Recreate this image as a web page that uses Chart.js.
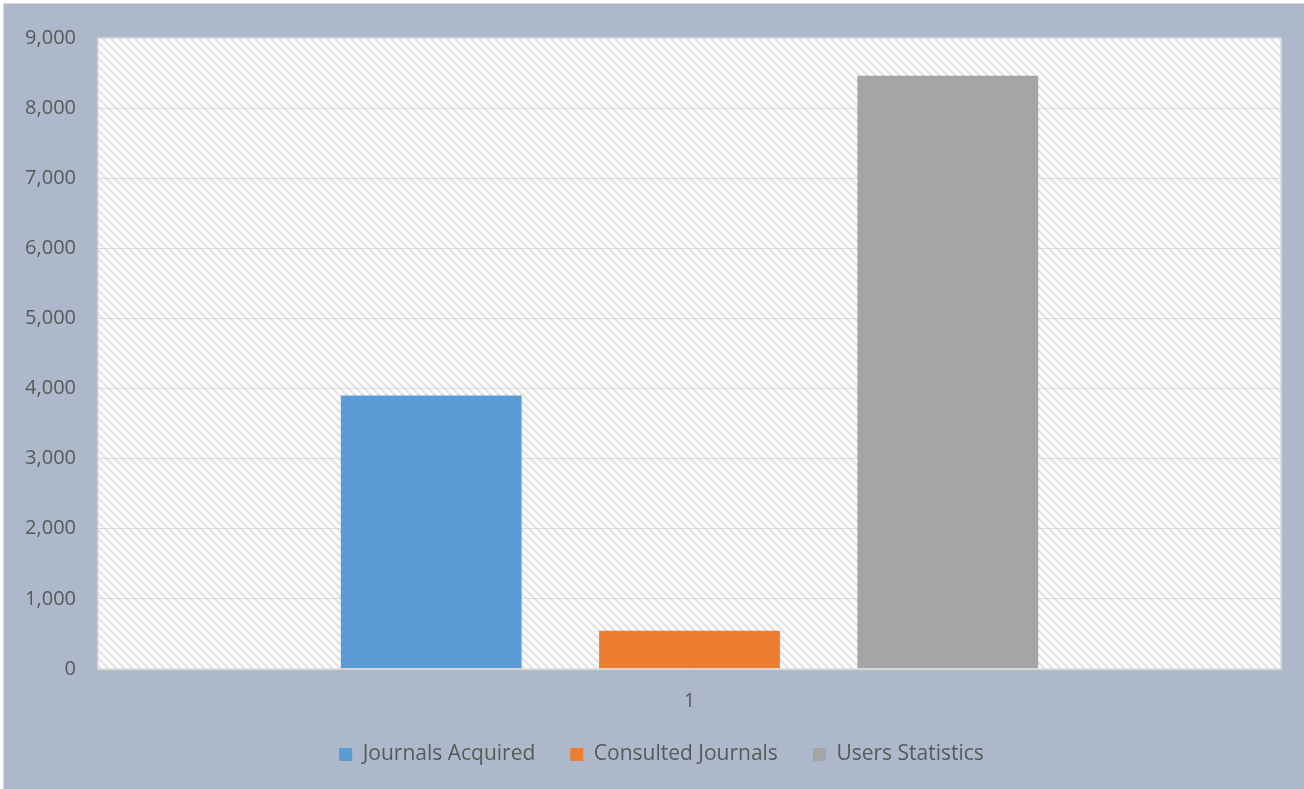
<!DOCTYPE html>
<html lang="en">
<head>
  <meta charset="UTF-8">
  <title>Journals</title>
  <script src="https://cdn.jsdelivr.net/npm/chart.js"></script>
  <style>
    body { margin: 0; background: #fff; }
    .moldura {
      position: absolute; left: 3px; top: 3px;
      width: 1301px; height: 786px;
      background: #ADB9CA;
      border-left: 1px solid #D9D9D9; border-top: 1px solid #D9D9D9;
    }
  </style>
</head>
<body>
  <div class="moldura">
    <canvas id="grafico"></canvas>
  </div>

<script>
  // dados
  var categorias = ['1']
  var series = ['Journals Acquired', 'Consulted Journals', 'Users Statistics']
  var valores = [3900, 545, 8460]
  var cores = ['#5B9BD5', '#ED7D31', '#A5A5A5']

  Chart.defaults.font.family = "'Open Sans', sans-serif"
  Chart.defaults.color = '#595959'

  // listras diagonais do fundo da area do grafico
  function criar_listras(ctx) {
    var tile = document.createElement('canvas')
    tile.width = 8
    tile.height = 8
    var t = tile.getContext('2d')
    t.fillStyle = '#fff'
    t.fillRect(0, 0, 8, 8)
    t.strokeStyle = '#E4E4E4'
    t.lineWidth = 2.5
    t.beginPath()
    t.moveTo(-2, -2); t.lineTo(10, 10)
    t.moveTo(-6, 2); t.lineTo(2, 10)
    t.moveTo(6, -2); t.lineTo(14, 6)
    t.stroke()
    return ctx.createPattern(tile, 'repeat')
  }

  const fundo = {
    id: 'fundo',
    afterLayout(chart) {
      // legenda um pouco deslocada, como no original
      if (chart.legend) {
        chart.legend.left += 19
        chart.legend.right += 19
        chart.legend.top += 2
        chart.legend.bottom += 2
      }
    },
    beforeDraw(chart) {
      const ctx = chart.ctx
      const a = chart.chartArea
      ctx.save()
      ctx.fillStyle = criar_listras(ctx)
      ctx.fillRect(a.left, a.top, a.right - a.left, a.bottom - a.top)
      ctx.restore()
    },
    afterDatasetsDraw(chart) {
      const ctx = chart.ctx
      const a = chart.chartArea
      ctx.save()
      ctx.strokeStyle = '#D9D9D9'
      ctx.lineWidth = 1.5
      ctx.strokeRect(a.left, a.top, a.right - a.left, a.bottom - a.top)
      ctx.restore()
    }
  }

  const data = {
    labels: categorias,
    datasets: []
  }

  for (var i = 0; i < series.length; i++) {
    data.datasets.push({
      label: series[i],
      data: [valores[i]],
      backgroundColor: cores[i],
      borderWidth: 0,
      categoryPercentage: 0.655,
      barPercentage: 0.70
    })
  }

  const config = {
    type: 'bar',
    data: data,
    options: {
      responsive: false,
      animation: false,
      layout: { padding: { left: 0, top: 33, right: 24, bottom: 17 } },
      plugins: {
        legend: {
          position: 'bottom',
          labels: {
            boxWidth: 13,
            boxHeight: 13,
            padding: 35,
            font: { size: 21 },
            color: '#595959'
          }
        },
        tooltip: { enabled: false }
      },
      scales: {
        x: {
          grid: { display: false, drawTicks: false },
          border: { display: false },
          ticks: { padding: 20, font: { size: 20 } },
          afterFit: function (s) { s.height = 38 }
        },
        y: {
          min: 0,
          max: 9000,
          ticks: {
            stepSize: 1000,
            padding: 22,
            font: { size: 20 },
            callback: function (v) { return v.toLocaleString('en-US') }
          },
          grid: { color: '#D9D9D9', lineWidth: 1, drawTicks: false },
          border: { display: false },
          afterFit: function (s) { s.width = 94 }
        }
      }
    },
    plugins: [fundo]
  }

  const cv = document.getElementById('grafico')
  cv.width = 1301
  cv.height = 786
  new Chart(cv, config)
</script>
</body>
</html>
